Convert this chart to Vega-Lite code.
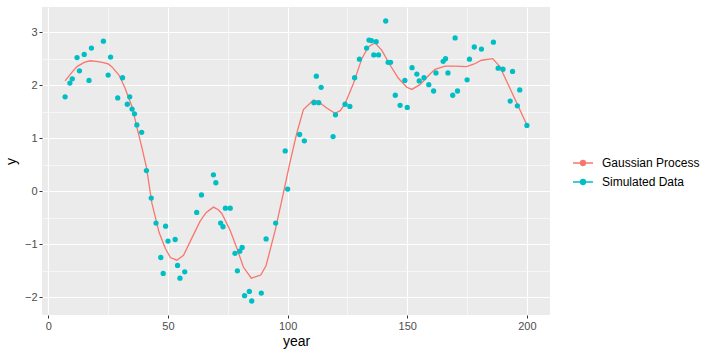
{
  "$schema": "https://vega.github.io/schema/vega-lite/v6.json",
  "autosize": {"type": "none"},
  "padding": {"left": 42, "top": 7, "right": 162, "bottom": 42},
  "width": 508,
  "height": 308,
  "background": "white",
  "config": {
    "font": "Liberation Sans",
    "view": {"fill": "#EBEBEB", "stroke": null},
    "axis": {
      "gridColor": "white",
      "gridWidth": 1.1,
      "domain": false,
      "tickColor": "#333333",
      "tickSize": 3,
      "tickWidth": 1,
      "labelColor": "#4D4D4D",
      "labelFontSize": 11,
      "labelPadding": 2,
      "titleColor": "black",
      "titleFontSize": 14,
      "titleFontWeight": "normal"
    }
  },
  "datasets": {
    "sim": [
      {"year": 7, "y": 1.78}, {"year": 9, "y": 2.04}, {"year": 10, "y": 2.12}, {"year": 12, "y": 2.52},
      {"year": 13, "y": 2.27}, {"year": 15, "y": 2.58}, {"year": 17, "y": 2.09}, {"year": 18, "y": 2.70},
      {"year": 23, "y": 2.83}, {"year": 25, "y": 2.19}, {"year": 26, "y": 2.53}, {"year": 29, "y": 1.76},
      {"year": 31, "y": 2.14}, {"year": 33, "y": 1.64}, {"year": 34, "y": 1.78}, {"year": 35, "y": 1.55},
      {"year": 36, "y": 1.46}, {"year": 37, "y": 1.25}, {"year": 39, "y": 1.11}, {"year": 41, "y": 0.39},
      {"year": 43, "y": -0.13}, {"year": 45, "y": -0.60}, {"year": 47, "y": -1.25}, {"year": 48, "y": -1.55},
      {"year": 49, "y": -0.66}, {"year": 50, "y": -0.94}, {"year": 53, "y": -0.91}, {"year": 54, "y": -1.40},
      {"year": 55, "y": -1.64}, {"year": 57, "y": -1.52}, {"year": 62, "y": -0.40}, {"year": 64, "y": -0.07},
      {"year": 69, "y": 0.31}, {"year": 70, "y": 0.16}, {"year": 72, "y": -0.60}, {"year": 73, "y": -0.67},
      {"year": 74, "y": -0.32}, {"year": 76, "y": -0.32}, {"year": 78, "y": -1.17}, {"year": 79, "y": -1.50},
      {"year": 80, "y": -1.13}, {"year": 81, "y": -1.06}, {"year": 82, "y": -1.97}, {"year": 84, "y": -1.89},
      {"year": 85, "y": -2.07}, {"year": 89, "y": -1.92}, {"year": 91, "y": -0.90}, {"year": 95, "y": -0.60},
      {"year": 99, "y": 0.76}, {"year": 100, "y": 0.04}, {"year": 105, "y": 1.07}, {"year": 107, "y": 0.95},
      {"year": 111, "y": 1.67}, {"year": 112, "y": 2.17}, {"year": 113, "y": 1.67}, {"year": 114, "y": 1.96},
      {"year": 119, "y": 1.03}, {"year": 120, "y": 1.44}, {"year": 124, "y": 1.64}, {"year": 126, "y": 1.60},
      {"year": 128, "y": 2.14}, {"year": 130, "y": 2.49}, {"year": 133, "y": 2.70}, {"year": 134, "y": 2.85},
      {"year": 135, "y": 2.84}, {"year": 136, "y": 2.57}, {"year": 137, "y": 2.82}, {"year": 138, "y": 2.57},
      {"year": 141, "y": 3.21}, {"year": 142, "y": 2.43}, {"year": 143, "y": 2.43}, {"year": 145, "y": 1.81},
      {"year": 147, "y": 1.62}, {"year": 149, "y": 2.09}, {"year": 150, "y": 1.58}, {"year": 152, "y": 2.33},
      {"year": 154, "y": 2.21}, {"year": 155, "y": 2.08}, {"year": 157, "y": 2.14}, {"year": 159, "y": 2.01},
      {"year": 161, "y": 1.89}, {"year": 162, "y": 2.23}, {"year": 165, "y": 2.45}, {"year": 166, "y": 2.50},
      {"year": 167, "y": 2.23}, {"year": 169, "y": 1.81}, {"year": 170, "y": 2.89}, {"year": 171, "y": 1.89},
      {"year": 175, "y": 2.10}, {"year": 176, "y": 2.49}, {"year": 178, "y": 2.72}, {"year": 181, "y": 2.68},
      {"year": 186, "y": 2.81}, {"year": 188, "y": 2.32}, {"year": 190, "y": 2.30}, {"year": 193, "y": 1.70},
      {"year": 194, "y": 2.26}, {"year": 196, "y": 1.61}, {"year": 197, "y": 1.91}, {"year": 200, "y": 1.24}
    ],
    "gp": [
      {"year": 7, "y": 2.08}, {"year": 10, "y": 2.25}, {"year": 12, "y": 2.35}, {"year": 15, "y": 2.43},
      {"year": 17.5, "y": 2.46}, {"year": 20, "y": 2.45}, {"year": 22.5, "y": 2.43}, {"year": 25, "y": 2.40},
      {"year": 26.5, "y": 2.35}, {"year": 29.5, "y": 2.19}, {"year": 32, "y": 1.95}, {"year": 35, "y": 1.59},
      {"year": 37, "y": 1.21}, {"year": 39, "y": 0.84}, {"year": 41, "y": 0.45}, {"year": 43.3, "y": -0.23},
      {"year": 46.3, "y": -0.78}, {"year": 48.9, "y": -1.08}, {"year": 51, "y": -1.25}, {"year": 53.7, "y": -1.30},
      {"year": 56.5, "y": -1.21}, {"year": 60, "y": -0.88}, {"year": 63.5, "y": -0.56}, {"year": 66, "y": -0.40},
      {"year": 69, "y": -0.30}, {"year": 71, "y": -0.35}, {"year": 72.5, "y": -0.42}, {"year": 76, "y": -0.74},
      {"year": 79, "y": -1.10}, {"year": 81.5, "y": -1.43}, {"year": 84.8, "y": -1.64}, {"year": 88.8, "y": -1.58},
      {"year": 91, "y": -1.40}, {"year": 94.8, "y": -0.74}, {"year": 98.2, "y": -0.04}, {"year": 101, "y": 0.55},
      {"year": 103.8, "y": 1.09}, {"year": 106.6, "y": 1.54}, {"year": 110.8, "y": 1.72}, {"year": 112.9, "y": 1.69},
      {"year": 116, "y": 1.58}, {"year": 119.8, "y": 1.47}, {"year": 122, "y": 1.52}, {"year": 124, "y": 1.65},
      {"year": 127.5, "y": 2.03}, {"year": 131, "y": 2.50}, {"year": 133.7, "y": 2.72}, {"year": 136.5, "y": 2.80},
      {"year": 139.3, "y": 2.66}, {"year": 142.8, "y": 2.38}, {"year": 146.3, "y": 2.13}, {"year": 149.8, "y": 1.96},
      {"year": 151.9, "y": 1.92}, {"year": 155.3, "y": 2.01}, {"year": 159.5, "y": 2.21}, {"year": 161.6, "y": 2.30},
      {"year": 165.8, "y": 2.36}, {"year": 170, "y": 2.36}, {"year": 174.8, "y": 2.35}, {"year": 178, "y": 2.40},
      {"year": 181, "y": 2.47}, {"year": 185.7, "y": 2.50}, {"year": 188.7, "y": 2.35}, {"year": 192.9, "y": 1.94},
      {"year": 200, "y": 1.25}
    ]
  },
  "resolve": {"axis": {"x": "independent", "y": "independent"}},
  "layer": [
    {
      "data": {"name": "gp"},
      "mark": {"type": "line", "strokeWidth": 1.3},
      "encoding": {
        "x": {"field": "year", "type": "quantitative",
              "scale": {"domain": [-2.65, 209.65], "nice": false, "zero": false},
              "axis": {"values": [25, 75, 125, 175], "grid": true, "gridWidth": 0.55, "labels": false, "ticks": false, "title": null, "orient": "top"}},
        "y": {"field": "y", "type": "quantitative",
              "scale": {"domain": [-2.334, 3.474], "nice": false, "zero": false},
              "axis": {"values": [-1.5, -0.5, 0.5, 1.5, 2.5], "grid": true, "gridWidth": 0.55, "labels": false, "ticks": false, "title": null, "orient": "right"}},
        "color": {"datum": "Gaussian Process", "type": "nominal",
                  "scale": {"domain": ["Gaussian Process", "Simulated Data"], "range": ["#F8766D", "#00BFC4"]},
                  "legend": {
                    "title": null,
                    "orient": "none",
                    "legendX": 530,
                    "legendY": 145,
                    "symbolType": "M-1,0L1,0M-0.25,0A0.25,0.25,0,1,0,0.25,0A0.25,0.25,0,1,0,-0.25,0Z",
                    "symbolSize": 400,
                    "symbolStrokeWidth": 1.3,
                    "symbolOpacity": 1,
                    "labelFontSize": 12,
                    "labelColor": "black",
                    "labelOffset": 8,
                    "rowPadding": 2,
                    "encode": {
                      "symbols": {"update": {
                        "fill": {"scale": "color", "field": "value"},
                        "stroke": {"scale": "color", "field": "value"},
                        "fillOpacity": {"value": 1},
                        "strokeOpacity": {"value": 1}
                      }}
                    }
                  }}
      }
    },
    {
      "data": {"name": "sim"},
      "mark": {"type": "point", "filled": true, "size": 28, "opacity": 1},
      "encoding": {
        "x": {"field": "year", "type": "quantitative",
              "axis": {"values": [0, 50, 100, 150, 200], "grid": true, "title": "year", "titlePadding": 3, "orient": "bottom"}},
        "y": {"field": "y", "type": "quantitative",
              "axis": {"values": [-2, -1, 0, 1, 2, 3], "grid": true, "title": "y", "titlePadding": 6, "orient": "left"}},
        "color": {"datum": "Simulated Data", "type": "nominal"}
      }
    }
  ]
}
